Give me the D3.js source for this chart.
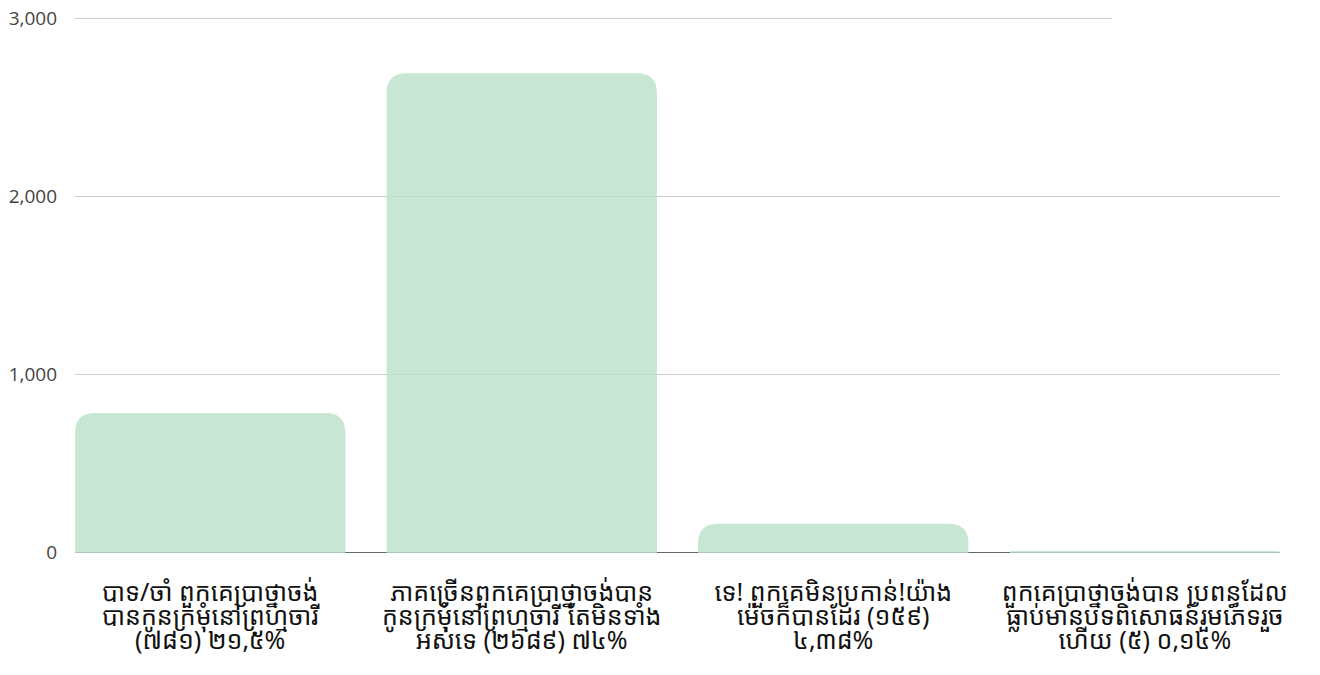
<!DOCTYPE html>
<html><head><meta charset="utf-8">
<script src="https://cdn.jsdelivr.net/npm/d3@7"></script>
<style>body{margin:0;background:#fff}</style>
</head><body>
<svg id="c" width="1320" height="675"></svg>
<script>
const categories = [
  ["បាទ/ចាំ ពួកគេប្រាថ្នាចង់", "បានកូនក្រមុំនៅព្រហ្មចារី", "(៧៨១) ២១,៥%"],
  ["ភាគច្រើនពួកគេប្រាថ្នាចង់បាន", "កូនក្រមុំនៅព្រហ្មចារី តែមិនទាំង", "អស់ទេ (២៦៨៩) ៧៤%"],
  ["ទេ! ពួកគេមិនប្រកាន់!យ៉ាង", "ម៉េចក៏បានដែរ (១៥៩)", "៤,៣៨%"],
  ["ពួកគេប្រាថ្នាចង់បាន ប្រពន្ធដែល", "ធ្លាប់មានបទពិសោធន៍រួមភេទរួច", "ហើយ (៥) ០,១៤%"]
];
const values = [781, 2689, 159, 5];
const yTicks = [0, 1000, 2000, 3000];

(function () {
const svg = d3.select("#c");
const mLeft = 75, mRight = 1280, mTop = 18, mBottom = 552;
const x = d3.scaleBand().domain(d3.range(values.length)).range([mLeft, mRight]).paddingInner(0.132).paddingOuter(0);
const y = d3.scaleLinear().domain([0, 3000]).range([mBottom, mTop]);

svg.append("g").selectAll("line").data(yTicks.filter(d => d > 0)).join("line")
  .attr("x1", mLeft).attr("x2", d => d === 3000 ? 1112 : mRight)
  .attr("y1", d => y(d) + 0.5).attr("y2", d => y(d) + 0.5)
  .attr("stroke", "#cccccc").attr("stroke-width", 1);

svg.append("g").selectAll("text").data(yTicks).join("text")
  .attr("x", 57).attr("y", d => y(d)).attr("dy", "0.35em")
  .attr("text-anchor", "end")
  .attr("font-family", "'Open Sans', sans-serif").attr("font-size", 19)
  .attr("fill", "#444").text(d => d3.format(",")(d));

svg.append("line").attr("x1", mLeft).attr("x2", mRight)
  .attr("y1", y(0) + 0.5).attr("y2", y(0) + 0.5)
  .attr("stroke", "#666").attr("stroke-width", 1);

const r = 20;
function barPath(x0, w, yTop, yBase) {
  const h = yBase - yTop;
  const rr = Math.min(r, h, w / 2);
  return `M${x0},${yBase}V${yTop + rr}Q${x0},${yTop} ${x0 + rr},${yTop}H${x0 + w - rr}Q${x0 + w},${yTop} ${x0 + w},${yTop + rr}V${yBase}Z`;
}
svg.append("g").selectAll("path").data(values).join("path")
  .attr("d", (d, i) => barPath(x(i), x.bandwidth(), y(d), y(0) + 1))
  .attr("fill", "rgb(186,224,201)").attr("fill-opacity", 0.8);

const lg = svg.append("g").selectAll("text").data(categories).join("text")
  .attr("text-anchor", "middle")
  .attr("font-family", "'Noto Sans Khmer', 'Khmer OS', 'Open Sans', sans-serif")
  .attr("font-size", 25).attr("fill", "#111");
lg.selectAll("tspan").data((d, i) => d.map(s => ({s, i}))).join("tspan")
  .attr("x", d => x(d.i) + x.bandwidth() / 2)
  .attr("y", (d, j) => 601 + j * 24)
  .text(d => d.s);
})();
</script>
</body></html>
